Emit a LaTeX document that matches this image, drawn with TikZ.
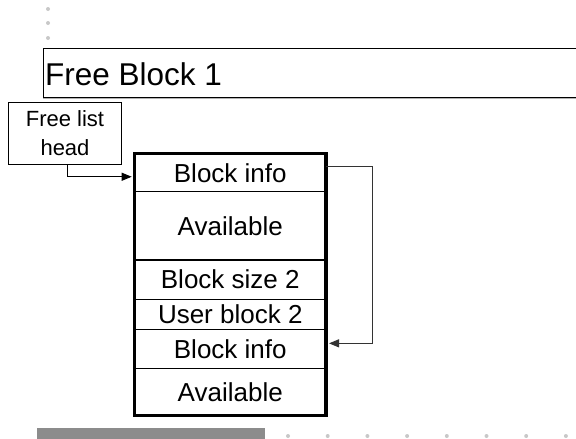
\documentclass[tikz,border=0pt]{standalone}
\usepackage{fontspec}
\setmainfont{Liberation Sans}
\usetikzlibrary{arrows.meta,calc}
\definecolor{dotgray}{HTML}{C8C8C8}
\definecolor{bargray}{HTML}{8C8C8C}
\tikzset{
  rowbox/.style={draw, line width=1.2pt, inner sep=0pt, outer sep=0pt,
    minimum width=191.5pt, text height=18.6pt, text depth=0pt,
    font=\fontsize{26}{31}\selectfont},
  link/.style={line width=1pt, -{Triangle[length=10pt,width=8pt]}},
}
\begin{document}
\begin{tikzpicture}[x=1pt,y=-1pt]
\useasboundingbox (0,0) rectangle (576,439);
\clip (0,0) rectangle (576,439);
% top dots
\foreach \y in {9,23,38} \fill[dotgray] (48,\y) circle (2);
% title
\node[draw, line width=1pt, outer sep=0pt, inner sep=0pt, anchor=north west,
  minimum width=560pt, minimum height=48.5pt] (titlebox) at (43.3,48.8) {};
\draw[gray!60, line width=0.8pt] ([yshift=-1.2pt]titlebox.south west) -- ([yshift=-1.2pt]titlebox.south east);
\node[anchor=base west, inner sep=0pt, font=\fontsize{31.5}{38}\selectfont] (title) at (45,85) {Free Block 1};
% free list head
\node[draw, line width=1pt, outer sep=0pt, inner sep=0pt, minimum width=113.4pt,
  minimum height=62pt, align=center, font=\fontsize{22}{28.4}\selectfont] (head) at (65,133.3) {Free list\\head};
% rows
\node[rowbox, minimum height=38.1pt] (row1) at (230.25,172.75) {Block info};
\node[rowbox, minimum height=68.2pt] (row2) at (230.25,225.9) {Available};
\node[rowbox, minimum height=39.3pt] (row3) at (230.25,279.65) {Block size 2};
\node[rowbox, minimum height=29.9pt] (row4) at (230.25,314.25) {User block 2};
\node[rowbox, minimum height=39.3pt] (row5) at (230.25,348.85) {Block info};
\node[rowbox, minimum height=47pt] (row6) at (230.25,392) {Available};
\draw[line width=3.5pt] (row1.north west) rectangle (row6.south east);
% connectors
\draw[link, shorten >=2.8pt] ([xshift=2.7pt]head.south) |- ([yshift=-4pt]row1.west);
\draw[link, draw=black!80, shorten >=3pt] ([yshift=6pt]row1.east) -- ++(46.5,0) |- ([yshift=5.5pt]row5.east);
% bottom bar and dots
\fill[bargray] (37,428) rectangle (265,440);
\foreach \i in {0,...,7} \fill[dotgray] (288+39.7*\i,436) circle (2);
\end{tikzpicture}
\end{document}
